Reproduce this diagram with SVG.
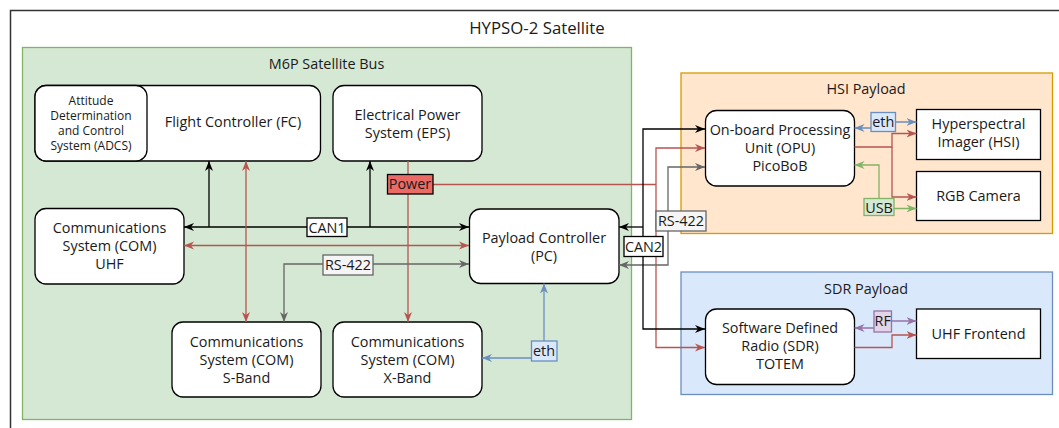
<svg xmlns="http://www.w3.org/2000/svg" width="1059" height="428" viewBox="0 0 1059 428">
<defs>
<style>
text{font-family:"Open Sans","Noto Sans","Liberation Sans",sans-serif;fill:#1a1a1a;text-anchor:middle}
.t{font-size:14.4px}
.s{font-size:12px}
.box{fill:#fff;stroke:#000;stroke-width:1.3}
.ln{fill:none;stroke-width:1.3}
.k{stroke:#000}
.r{stroke:#b85450}
.g{stroke:#666}
.b{stroke:#6c8ebf}
.gr{stroke:#82b366}
.p{stroke:#9673a6}
</style>
<marker id="ak" viewBox="0 0 10 10" refX="10" refY="5" markerWidth="10" markerHeight="10" markerUnits="userSpaceOnUse" orient="auto-start-reverse"><path d="M0,1 L10,5 L0,9 L3,5 Z" fill="#000"/></marker>
<marker id="ar" viewBox="0 0 10 10" refX="10" refY="5" markerWidth="10" markerHeight="10" markerUnits="userSpaceOnUse" orient="auto-start-reverse"><path d="M0,1 L10,5 L0,9 L3,5 Z" fill="#b85450"/></marker>
<marker id="ag" viewBox="0 0 10 10" refX="10" refY="5" markerWidth="10" markerHeight="10" markerUnits="userSpaceOnUse" orient="auto-start-reverse"><path d="M0,1 L10,5 L0,9 L3,5 Z" fill="#666"/></marker>
<marker id="ab" viewBox="0 0 10 10" refX="10" refY="5" markerWidth="10" markerHeight="10" markerUnits="userSpaceOnUse" orient="auto-start-reverse"><path d="M0,1 L10,5 L0,9 L3,5 Z" fill="#6c8ebf"/></marker>
<marker id="agr" viewBox="0 0 10 10" refX="10" refY="5" markerWidth="10" markerHeight="10" markerUnits="userSpaceOnUse" orient="auto-start-reverse"><path d="M0,1 L10,5 L0,9 L3,5 Z" fill="#82b366"/></marker>
<marker id="ap" viewBox="0 0 10 10" refX="10" refY="5" markerWidth="10" markerHeight="10" markerUnits="userSpaceOnUse" orient="auto-start-reverse"><path d="M0,1 L10,5 L0,9 L3,5 Z" fill="#9673a6"/></marker>
</defs>
<rect width="1059" height="428" fill="#fff"/>
<g id="satellite">
<rect x="10.5" y="10.5" width="1100" height="500" fill="#fff" stroke="#333" stroke-width="1.5"/>
<text x="537" y="34" style="font-size:16.8px" fill="#000">HYPSO-2 Satellite</text>
</g>
<g id="bus">
<rect x="22.5" y="47.5" width="609" height="372" fill="#d5e8d4" stroke="#82b366" stroke-width="1.3"/>
<text class="t" x="326.5" y="69">M6P Satellite Bus</text>
</g>
<g id="hsi-payload">
<rect x="681" y="73" width="371.5" height="160.5" fill="#ffe6cc" stroke="#d79b00" stroke-width="1.3"/>
<text class="t" x="866" y="94">HSI Payload</text>
</g>
<g id="sdr-payload">
<rect x="681" y="272" width="371.5" height="122.5" fill="#dae8fc" stroke="#6c8ebf" stroke-width="1.3"/>
<text class="t" x="866" y="294">SDR Payload</text>
</g>
<g id="fc">
<rect class="box" x="35" y="85.5" width="285.5" height="75.5" rx="11"/>
<text class="t" x="233" y="127">Flight Controller (FC)</text>
</g>
<g id="adcs">
<rect class="box" x="35" y="85.5" width="112" height="75.5" rx="11"/>
<text class="s" x="91" y="105">Attitude</text>
<text class="s" x="91" y="120">Determination</text>
<text class="s" x="91" y="135">and Control</text>
<text class="s" x="91" y="150">System (ADCS)</text>
</g>
<g id="eps">
<rect class="box" x="333" y="85.5" width="149" height="75.5" rx="11"/>
<text class="t" x="407.5" y="120">Electrical Power</text>
<text class="t" x="407.5" y="138">System (EPS)</text>
</g>
<g id="com-uhf">
<rect class="box" x="35" y="208.5" width="149" height="75.5" rx="11"/>
<text class="t" x="109.5" y="233">Communications</text>
<text class="t" x="109.5" y="251">System (COM)</text>
<text class="t" x="109.5" y="269">UHF</text>
</g>
<g id="com-sband">
<rect class="box" x="172" y="322" width="149" height="75" rx="11"/>
<text class="t" x="246.5" y="347">Communications</text>
<text class="t" x="246.5" y="365">System (COM)</text>
<text class="t" x="246.5" y="383">S-Band</text>
</g>
<g id="com-xband">
<rect class="box" x="333" y="322" width="149" height="75" rx="11"/>
<text class="t" x="407.5" y="347">Communications</text>
<text class="t" x="407.5" y="365">System (COM)</text>
<text class="t" x="407.5" y="383">X-Band</text>
</g>
<g id="pc">
<rect class="box" x="469.5" y="209" width="149.5" height="74.5" rx="11"/>
<text class="t" x="544" y="243">Payload Controller</text>
<text class="t" x="544" y="261">(PC)</text>
</g>
<g id="opu">
<rect class="box" x="705.5" y="110.5" width="149" height="75.5" rx="11"/>
<text class="t" x="780" y="135">On-board Processing</text>
<text class="t" x="780" y="153">Unit (OPU)</text>
<text class="t" x="780" y="171">PicoBoB</text>
</g>
<g id="hsi">
<rect class="box" x="916.5" y="109.5" width="124" height="50"/>
<text class="t" x="978.5" y="129">Hyperspectral</text>
<text class="t" x="978.5" y="147">Imager (HSI)</text>
</g>
<g id="rgb">
<rect class="box" x="916.5" y="171.5" width="124" height="49"/>
<text class="t" x="978.5" y="201">RGB Camera</text>
</g>
<g id="sdr">
<rect class="box" x="705.5" y="309" width="149" height="75.5" rx="11"/>
<text class="t" x="780" y="333">Software Defined</text>
<text class="t" x="780" y="351">Radio (SDR)</text>
<text class="t" x="780" y="369">TOTEM</text>
</g>
<g id="uhf-frontend">
<rect class="box" x="916.5" y="309" width="124" height="49.5"/>
<text class="t" x="978.5" y="339">UHF Frontend</text>
</g>
<g id="connectors">
<path class="ln k" d="M184,227 H469" marker-start="url(#ak)" marker-end="url(#ak)"/>
<path class="ln k" d="M209,227 V161" marker-end="url(#ak)"/>
<path class="ln k" d="M370,227 V161" marker-end="url(#ak)"/>
<path class="ln r" d="M184,245.5 H469" marker-start="url(#ar)" marker-end="url(#ar)"/>
<path class="ln r" d="M246,161 V322" marker-start="url(#ar)" marker-end="url(#ar)"/>
<path class="ln r" d="M408,161 V322" marker-end="url(#ar)"/>
<path class="ln r" d="M408,184.5 H656"/>
<path class="ln r" d="M705,148 H656 V347.5 H705" marker-start="url(#ar)" marker-end="url(#ar)"/>
<path class="ln g" d="M469,264 H284 V322" marker-start="url(#ag)" marker-end="url(#ag)"/>
<path class="ln g" d="M619,265 H668 V167 H705" marker-start="url(#ag)" marker-end="url(#ag)"/>
<path class="ln k" d="M705,129 H643 V329 H705" marker-start="url(#ak)" marker-end="url(#ak)"/>
<path class="ln k" d="M643,227 H619" marker-end="url(#ak)"/>
<path class="ln b" d="M544,283.5 V358 H482" marker-start="url(#ab)" marker-end="url(#ab)"/>
<path class="ln b" d="M854.5,128 H883 V122 H916.5" marker-start="url(#ab)" marker-end="url(#ab)"/>
<path class="ln r" d="M854.5,147 H892 V133.5 H916.5" marker-end="url(#ar)"/>
<path class="ln r" d="M892,147 V197 H916.5" marker-end="url(#ar)"/>
<path class="ln gr" d="M854.5,165 H879 V208.5 H916.5" marker-start="url(#agr)" marker-end="url(#agr)"/>
<path class="ln p" d="M854.5,328 H882 V321 H916.5" marker-start="url(#ap)" marker-end="url(#ap)"/>
<path class="ln r" d="M854.5,347.5 H892 V335 H916.5" marker-end="url(#ar)"/>
</g>
<g id="labels">
<rect x="307" y="218" width="40" height="18.5" fill="#fff" stroke="#000" stroke-width="1.3"/>
<text class="t" x="327" y="232.5">CAN1</text>
<rect x="323" y="255" width="50" height="20" fill="#f5f5f5" stroke="#666" stroke-width="1.3"/>
<text class="t" x="348" y="270">RS-422</text>
<rect x="387.5" y="174.5" width="45.5" height="19.5" fill="#ea6b66" stroke="#000" stroke-width="1.3"/>
<text class="t" x="410" y="189">Power</text>
<rect x="624" y="236.5" width="39" height="20" fill="#fff" stroke="#000" stroke-width="1.3"/>
<text class="t" x="643.5" y="251.5">CAN2</text>
<rect x="656" y="211" width="50" height="20" fill="#f5f5f5" stroke="#666" stroke-width="1.3"/>
<text class="t" x="681" y="226">RS-422</text>
<rect x="531.5" y="341" width="25.5" height="20" fill="#dae8fc" stroke="#6c8ebf" stroke-width="1.3"/>
<text class="t" x="544" y="356">eth</text>
<rect x="871" y="112.5" width="24.5" height="19" fill="#dae8fc" stroke="#6c8ebf" stroke-width="1.3"/>
<text class="t" x="883.2" y="127">eth</text>
<rect x="864" y="198.5" width="30" height="17" fill="#d5e8d4" stroke="#82b366" stroke-width="1.3"/>
<text class="t" x="879" y="212.5">USB</text>
<rect x="874" y="311" width="17.5" height="21" fill="#e1d5e7" stroke="#9673a6" stroke-width="1.3"/>
<text class="t" x="882.7" y="326">RF</text>
</g>
</svg>
